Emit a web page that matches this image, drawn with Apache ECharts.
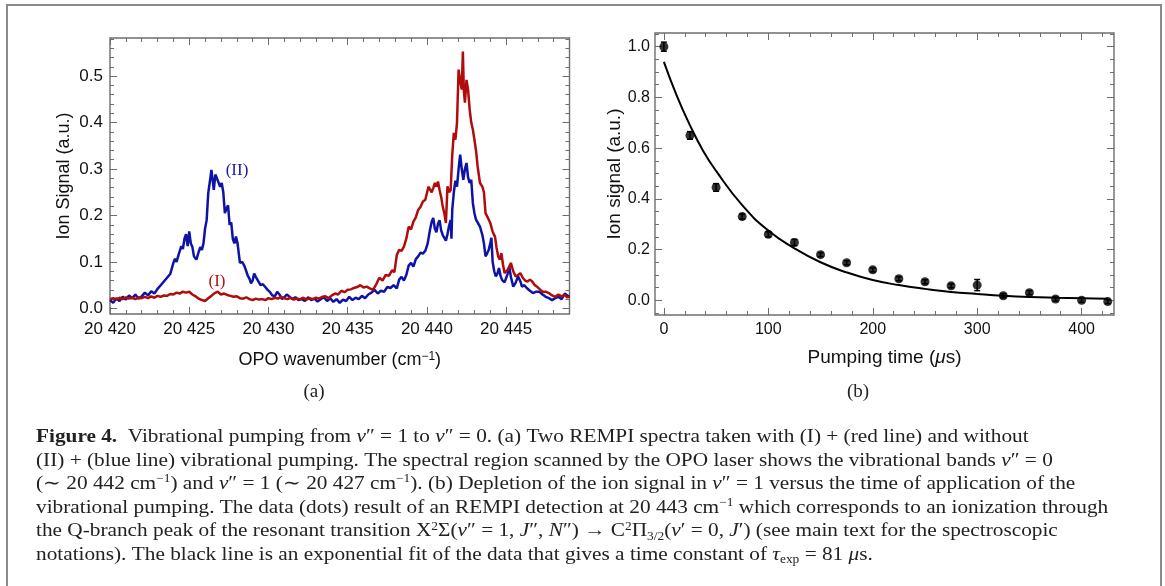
<!DOCTYPE html>
<html>
<head>
<meta charset="utf-8">
<title>Figure 4</title>
<script src="https://cdn.jsdelivr.net/npm/echarts@6/dist/echarts.min.js"></script>
<style>
  html, body { margin: 0; padding: 0; background: #fff; }
  #chart { width: 1165px; height: 586px; }
</style>
</head>
<body>
<div id="chart"></div>
<script>
// (a) REMPI spectra: [wavenumber cm-1, ion signal]
const spectrumII = [
  [20420.0,0.018],[20420.2,0.012],[20420.4,0.022],[20420.6,0.016],[20420.8,0.025],[20421.0,0.019],
  [20421.2,0.028],[20421.4,0.022],[20421.6,0.030],[20421.8,0.021],[20422.0,0.026],[20422.2,0.034],
  [20422.4,0.028],[20422.6,0.037],[20422.8,0.032],[20423.0,0.042],[20423.2,0.050],[20423.4,0.058],
  [20423.6,0.066],[20423.8,0.074],[20424.0,0.098],[20424.1,0.107],[20424.2,0.100],[20424.35,0.118],
  [20424.5,0.134],[20424.6,0.128],[20424.7,0.150],[20424.8,0.160],[20424.9,0.134],[20425.0,0.166],
  [20425.1,0.140],[20425.2,0.132],[20425.3,0.112],[20425.45,0.105],[20425.6,0.122],[20425.7,0.132],
  [20425.8,0.126],[20425.9,0.140],[20426.0,0.172],[20426.1,0.190],[20426.2,0.248],[20426.3,0.272],
  [20426.4,0.298],[20426.5,0.270],[20426.55,0.255],[20426.65,0.288],[20426.75,0.280],[20426.85,0.284],
  [20426.95,0.262],[20427.05,0.270],[20427.15,0.250],[20427.25,0.205],[20427.35,0.215],[20427.45,0.222],
  [20427.55,0.180],[20427.65,0.185],[20427.75,0.150],[20427.85,0.140],[20427.95,0.155],[20428.05,0.140],
  [20428.2,0.098],[20428.35,0.100],[20428.5,0.090],[20428.6,0.080],[20428.7,0.070],[20428.8,0.064],
  [20428.9,0.054],[20429.0,0.060],[20429.1,0.075],[20429.2,0.068],[20429.3,0.072],[20429.4,0.056],
  [20429.5,0.050],[20429.65,0.052],[20429.8,0.046],[20429.95,0.040],[20430.1,0.035],[20430.25,0.028],
  [20430.4,0.026],[20430.55,0.036],[20430.7,0.030],[20430.85,0.020],[20431.0,0.024],[20431.15,0.030],
  [20431.3,0.026],[20431.5,0.020],[20431.7,0.024],[20431.9,0.018],[20432.1,0.020],[20432.3,0.016],
  [20432.5,0.024],[20432.7,0.018],[20432.9,0.021],[20433.1,0.015],[20433.3,0.020],[20433.5,0.024],
  [20433.7,0.016],[20433.9,0.022],[20434.1,0.014],[20434.3,0.020],[20434.5,0.012],[20434.7,0.019],
  [20434.9,0.016],[20435.1,0.025],[20435.3,0.018],[20435.5,0.023],[20435.7,0.020],[20435.9,0.027],
  [20436.1,0.022],[20436.3,0.030],[20436.5,0.034],[20436.7,0.040],[20436.9,0.032],[20437.1,0.038],
  [20437.3,0.036],[20437.5,0.046],[20437.7,0.044],[20437.9,0.050],[20438.1,0.043],[20438.25,0.062],
  [20438.4,0.068],[20438.55,0.060],[20438.7,0.072],[20438.85,0.092],[20439.0,0.098],[20439.15,0.090],
  [20439.3,0.106],[20439.45,0.112],[20439.6,0.120],[20439.75,0.118],[20439.9,0.124],[20440.05,0.140],
  [20440.2,0.170],[20440.3,0.186],[20440.4,0.195],[20440.5,0.172],[20440.6,0.164],[20440.7,0.182],
  [20440.8,0.190],[20440.9,0.168],[20441.0,0.158],[20441.1,0.152],[20441.2,0.146],[20441.3,0.160],
  [20441.4,0.178],[20441.5,0.190],[20441.55,0.150],[20441.6,0.212],[20441.7,0.250],[20441.8,0.275],
  [20441.9,0.262],[20442.0,0.300],[20442.1,0.331],[20442.2,0.300],[20442.3,0.277],[20442.4,0.300],
  [20442.5,0.313],[20442.6,0.282],[20442.7,0.270],[20442.8,0.277],[20442.9,0.227],[20443.0,0.205],
  [20443.1,0.191],[20443.2,0.185],[20443.35,0.176],[20443.5,0.158],[20443.6,0.140],[20443.7,0.112],
  [20443.8,0.118],[20443.9,0.126],[20444.0,0.140],[20444.07,0.152],[20444.15,0.100],[20444.25,0.080],
  [20444.35,0.069],[20444.45,0.075],[20444.55,0.087],[20444.65,0.070],[20444.75,0.061],[20444.9,0.056],
  [20445.0,0.060],[20445.1,0.075],[20445.2,0.090],[20445.3,0.068],[20445.45,0.047],[20445.6,0.055],
  [20445.75,0.069],[20445.9,0.058],[20446.0,0.047],[20446.15,0.050],[20446.3,0.044],[20446.5,0.038],
  [20446.7,0.033],[20446.9,0.036],[20447.1,0.036],[20447.3,0.030],[20447.5,0.025],[20447.7,0.022],
  [20447.9,0.018],[20448.1,0.022],[20448.3,0.025],[20448.5,0.020],[20448.7,0.032],[20448.85,0.028],
  [20449.0,0.025]
];
const spectrumI = [
  [20420.0,0.020],[20420.2,0.022],[20420.4,0.019],[20420.6,0.023],[20420.8,0.020],[20421.0,0.024],
  [20421.2,0.021],[20421.4,0.023],[20421.6,0.020],[20421.8,0.024],[20422.0,0.022],[20422.2,0.025],
  [20422.4,0.022],[20422.6,0.026],[20422.8,0.023],[20423.0,0.027],[20423.2,0.025],[20423.4,0.028],
  [20423.6,0.027],[20423.8,0.031],[20424.0,0.030],[20424.2,0.034],[20424.4,0.032],[20424.6,0.036],
  [20424.8,0.034],[20425.0,0.036],[20425.2,0.030],[20425.4,0.026],[20425.6,0.021],[20425.8,0.018],
  [20426.0,0.016],[20426.2,0.022],[20426.4,0.027],[20426.6,0.033],[20426.8,0.036],[20427.0,0.030],
  [20427.2,0.032],[20427.4,0.029],[20427.6,0.027],[20427.8,0.025],[20428.0,0.026],[20428.2,0.022],
  [20428.4,0.021],[20428.6,0.024],[20428.8,0.020],[20429.0,0.018],[20429.2,0.021],[20429.4,0.019],
  [20429.6,0.020],[20429.8,0.018],[20430.0,0.022],[20430.2,0.020],[20430.4,0.023],[20430.6,0.021],
  [20430.8,0.025],[20431.0,0.022],[20431.2,0.020],[20431.4,0.023],[20431.6,0.019],[20431.8,0.021],
  [20432.0,0.020],[20432.2,0.023],[20432.4,0.019],[20432.6,0.022],[20432.8,0.020],[20433.0,0.023],
  [20433.2,0.021],[20433.4,0.025],[20433.6,0.026],[20433.8,0.022],[20434.0,0.028],[20434.2,0.032],
  [20434.4,0.030],[20434.6,0.038],[20434.8,0.035],[20435.0,0.040],[20435.2,0.041],[20435.4,0.044],
  [20435.6,0.046],[20435.8,0.050],[20436.0,0.045],[20436.2,0.047],[20436.4,0.043],[20436.6,0.040],
  [20436.8,0.052],[20437.0,0.066],[20437.2,0.060],[20437.4,0.072],[20437.6,0.070],[20437.8,0.082],
  [20437.95,0.078],[20438.1,0.115],[20438.25,0.126],[20438.4,0.124],[20438.55,0.133],[20438.7,0.150],
  [20438.85,0.176],[20439.0,0.170],[20439.15,0.187],[20439.3,0.196],[20439.45,0.212],[20439.6,0.219],
  [20439.75,0.230],[20439.9,0.234],[20440.0,0.248],[20440.1,0.262],[20440.2,0.266],[20440.3,0.250],
  [20440.4,0.259],[20440.5,0.270],[20440.6,0.262],[20440.7,0.273],[20440.8,0.255],[20440.9,0.240],
  [20441.0,0.219],[20441.1,0.205],[20441.2,0.184],[20441.3,0.263],[20441.4,0.250],[20441.5,0.255],
  [20441.6,0.330],[20441.7,0.378],[20441.8,0.363],[20441.9,0.400],[20442.0,0.514],[20442.1,0.490],
  [20442.2,0.471],[20442.27,0.553],[20442.33,0.470],[20442.4,0.443],[20442.5,0.492],[20442.6,0.470],
  [20442.7,0.428],[20442.8,0.400],[20442.9,0.385],[20443.0,0.363],[20443.1,0.340],[20443.2,0.306],
  [20443.35,0.270],[20443.5,0.262],[20443.6,0.250],[20443.7,0.205],[20443.85,0.195],[20444.0,0.184],
  [20444.15,0.165],[20444.3,0.154],[20444.4,0.130],[20444.5,0.112],[20444.6,0.105],[20444.7,0.119],
  [20444.8,0.095],[20444.9,0.076],[20445.0,0.080],[20445.1,0.083],[20445.2,0.090],[20445.3,0.098],
  [20445.45,0.080],[20445.6,0.069],[20445.75,0.072],[20445.9,0.076],[20446.05,0.066],[20446.2,0.060],
  [20446.35,0.058],[20446.5,0.062],[20446.65,0.058],[20446.8,0.050],[20446.95,0.047],[20447.1,0.042],
  [20447.3,0.036],[20447.5,0.036],[20447.7,0.033],[20447.9,0.028],[20448.1,0.025],[20448.3,0.030],
  [20448.5,0.026],[20448.7,0.029],[20448.85,0.024],[20449.0,0.025]
];

// (b) depletion vs pumping time
const pumpTime = [0, 25, 50, 75, 100, 125, 150, 175, 200, 225, 250, 275, 300, 325, 350, 375, 400, 425];
const ionSignal = [1.0, 0.65, 0.445, 0.33, 0.26, 0.228, 0.18, 0.148, 0.12, 0.085, 0.073, 0.057, 0.06, 0.018, 0.03, 0.005, 0.0, -0.005];
const ionError = [0.018, 0.015, 0.015, 0.01, 0.01, 0.012, 0.008, 0.008, 0.008, 0.008, 0.008, 0.008, 0.022, 0.008, 0.008, 0.008, 0.008, 0.008];
const fitTime = [0, 12.5, 25, 37.5, 50, 75, 100, 125, 150, 175, 200, 225, 250, 275, 300, 325, 350, 375, 400, 425];
const fitSignal = [0.94, 0.805, 0.69, 0.59, 0.51, 0.375, 0.275, 0.205, 0.15, 0.11, 0.08, 0.06, 0.045, 0.033, 0.025, 0.018, 0.013, 0.01, 0.008, 0.006];

// tick labels
const waveTicks = [20420, 20425, 20430, 20435, 20440, 20445];
const signalTicksA = [0, 0.1, 0.2, 0.3, 0.4, 0.5];
const timeTicks = [0, 100, 200, 300, 400];
const signalTicksB = [0, 0.2, 0.4, 0.6, 0.8, 1.0];

function steps(start, stop, step) {
    var out = [];
    for (var i = 0; start + i * step <= stop + 1e-9; i++) {
        out.push(Math.round((start + i * step) * 1000) / 1000);
    }
    return out;
}

var frameColor = '#6e6e6e';

// four axes for one direction of a Mathematica-style frame: labelled major, minor, opposite major, opposite minor
function frameAxes(grid, dir, min, max, major, minor, fmt, fontSize, margin, name) {
    var sides = dir === 'x' ? ['bottom', 'top'] : ['left', 'right'];
    var list = [];
    sides.forEach(function(side, s) {
        [major, minor].forEach(function(ticks, m) {
            var ax = {
                type: 'value',
                gridIndex: grid,
                position: side,
                min: min,
                max: max,
                axisLine: { show: false, onZero: false },
                splitLine: { show: false },
                axisTick: {
                    inside: true,
                    length: m === 0 ? 7 : 4,
                    customValues: ticks,
                    lineStyle: { color: frameColor, width: 1 }
                },
                axisLabel: { show: false }
            };
            if (s === 0 && m === 0) {
                ax.axisLabel = {
                    show: true,
                    customValues: ticks,
                    formatter: fmt,
                    color: '#111',
                    fontFamily: 'Liberation Sans',
                    fontSize: fontSize,
                    margin: margin
                };
                Object.assign(ax, name);
            }
            list.push(ax);
        });
    });
    return list;
}

var supRich = {
    sup: { fontSize: 12, verticalAlign: 'top', lineHeight: 10, fontFamily: 'Liberation Sans', color: '#111' },
    i: { fontStyle: 'italic', fontFamily: 'Liberation Sans', fontSize: 19, color: '#111' }
};

var xAxes = []
    .concat(frameAxes(0, 'x', 20420, 20449, waveTicks, steps(20420, 20449, 1),
        function(v) { return '20 ' + String(v).slice(2); }, 17, 7, {
            name: 'OPO wavenumber (cm{sup|−1})',
            nameLocation: 'middle',
            nameGap: 37,
            nameTextStyle: { fontSize: 18, color: '#111', fontFamily: 'Liberation Sans', rich: supRich }
        }))
    .concat(frameAxes(1, 'x', -8.5, 431, timeTicks, steps(0, 420, 20),
        function(v) { return String(v); }, 16, 7, {
            name: 'Pumping time ({i|μ}s)',
            nameLocation: 'middle',
            nameGap: 33,
            nameTextStyle: { fontSize: 19, color: '#111', fontFamily: 'Liberation Sans', rich: supRich }
        }));

var yAxes = []
    .concat(frameAxes(0, 'y', -0.012, 0.582, signalTicksA, steps(0, 0.58, 0.02),
        function(v) { return v.toFixed(1); }, 17, 7, {
            name: 'Ion Signal (a.u.)',
            nameLocation: 'middle',
            nameGap: 37,
            nameTextStyle: { fontSize: 18, color: '#111', fontFamily: 'Liberation Sans' }
        }))
    .concat(frameAxes(1, 'y', -0.058, 1.054, signalTicksB, steps(-0.05, 1.05, 0.05),
        function(v) { return v.toFixed(1); }, 16, 5, {
            name: 'Ion signal (a.u.)',
            nameLocation: 'middle',
            nameGap: 29,
            nameTextStyle: { fontSize: 19, color: '#111', fontFamily: 'Liberation Sans' }
        }));

var captionLines = [
    '{b|Figure 4.}  Vibrational pumping from {i|ν}″ = 1 to {i|ν}″ = 0. (a) Two REMPI spectra taken with (I) + (red line) and without',
    '(II) + (blue line) vibrational pumping. The spectral region scanned by the OPO laser shows the vibrational bands {i|ν}″ = 0',
    '(∼ 20 442 cm{sup|−1}) and {i|ν}″ = 1 (∼ 20 427 cm{sup|−1}). (b) Depletion of the ion signal in {i|ν}″ = 1 versus the time of application of the',
    'vibrational pumping. The data (dots) result of an REMPI detection at 20 443 cm{sup|−1} which corresponds to an ionization through',
    'the Q-branch peak of the resonant transition X{sup|2}Σ({i|ν}″ = 1, {i|J}″, {i|N}″) → C{sup|2}Π{sub|3/2}({i|ν}′ = 0, {i|J}′) (see main text for the spectroscopic',
    'notations). The black line is an exponential fit of the data that gives a time constant of {i|τ}{sub|exp} = 81 {i|μ}s.'
];

var serif = 'Liberation Serif';
var captionRich = {
    b: { fontWeight: 'bold', fontFamily: serif, fontSize: 19, color: '#222' },
    i: { fontStyle: 'italic', fontFamily: serif, fontSize: 19, color: '#222' },
    sup: { fontFamily: serif, fontSize: 12, verticalAlign: 'top', lineHeight: 11, color: '#222' },
    sub: { fontFamily: serif, fontSize: 12, verticalAlign: 'bottom', lineHeight: 11, color: '#222' }
};

var graphics = [{
    type: 'rect',
    shape: { x: 7, y: 5, width: 1154, height: 640 },
    style: { fill: 'none', stroke: '#8a8a8a', lineWidth: 2 },
    silent: true
}, {
    type: 'text', x: 237, y: 171,
    style: { text: '(II)', fill: '#1a1a9e', font: '17px "Liberation Serif"', textAlign: 'center', textVerticalAlign: 'middle' }
}, {
    type: 'text', x: 217, y: 282,
    style: { text: '(I)', fill: '#b01515', font: '17px "Liberation Serif"', textAlign: 'center', textVerticalAlign: 'middle' }
}, {
    type: 'text', x: 314, y: 392,
    style: { text: '(a)', fill: '#222', font: '19px "Liberation Serif"', textAlign: 'center', textVerticalAlign: 'middle' }
}, {
    type: 'text', x: 858, y: 392,
    style: { text: '(b)', fill: '#222', font: '19px "Liberation Serif"', textAlign: 'center', textVerticalAlign: 'middle' }
}];

captionLines.forEach(function(line, k) {
    graphics.push({
        type: 'text',
        x: 36,
        y: 437 + k * 23.6,
        scaleX: 1.12,
        style: {
            text: line,
            fill: '#222',
            fontFamily: serif,
            fontSize: 19,
            lineHeight: 22,
            textVerticalAlign: 'middle',
            rich: captionRich
        }
    });
});

var option = {
    animation: false,
    backgroundColor: '#fff',
    grid: [
        { left: 110, top: 38, right: 595.5, bottom: 272, show: true, borderColor: frameColor, borderWidth: 1.4 },
        { left: 655, top: 33, right: 51, bottom: 271, show: true, borderColor: frameColor, borderWidth: 1.4 }
    ],
    xAxis: xAxes,
    yAxis: yAxes,
    series: [{
        name: '(II)',
        type: 'line',
        xAxisIndex: 0,
        yAxisIndex: 0,
        data: spectrumII,
        showSymbol: false,
        lineStyle: { color: '#0d13a6', width: 2.5 }
    }, {
        name: '(I)',
        type: 'line',
        xAxisIndex: 0,
        yAxisIndex: 0,
        data: spectrumI,
        showSymbol: false,
        lineStyle: { color: '#b00c0c', width: 2.5 }
    }, {
        name: 'fit',
        type: 'line',
        xAxisIndex: 4,
        yAxisIndex: 4,
        smooth: true,
        showSymbol: false,
        data: fitTime.map(function(t, i) { return [t, fitSignal[i]]; }),
        lineStyle: { color: '#000', width: 2 }
    }, {
        name: 'error',
        type: 'custom',
        xAxisIndex: 4,
        yAxisIndex: 4,
        data: pumpTime.map(function(t, i) {
            return [t, ionSignal[i] - ionError[i], ionSignal[i] + ionError[i]];
        }),
        renderItem: function(params, api) {
            var lo = api.coord([api.value(0), api.value(1)]);
            var hi = api.coord([api.value(0), api.value(2)]);
            var cap = 3;
            var st = { stroke: '#000', lineWidth: 1.5 };
            return {
                type: 'group',
                children: [
                    { type: 'line', shape: { x1: lo[0], y1: lo[1], x2: hi[0], y2: hi[1] }, style: st },
                    { type: 'line', shape: { x1: lo[0] - cap, y1: lo[1], x2: lo[0] + cap, y2: lo[1] }, style: st },
                    { type: 'line', shape: { x1: hi[0] - cap, y1: hi[1], x2: hi[0] + cap, y2: hi[1] }, style: st }
                ]
            };
        }
    }, {
        name: 'data',
        type: 'scatter',
        xAxisIndex: 4,
        yAxisIndex: 4,
        symbol: 'circle',
        symbolSize: 9,
        itemStyle: { color: '#000' },
        data: pumpTime.map(function(t, i) { return [t, ionSignal[i]]; })
    }],
    graphic: graphics
};

var chart = echarts.init(document.getElementById('chart'));
chart.setOption(option);
window.addEventListener('resize', function() { chart.resize(); });
</script>
</body>
</html>
